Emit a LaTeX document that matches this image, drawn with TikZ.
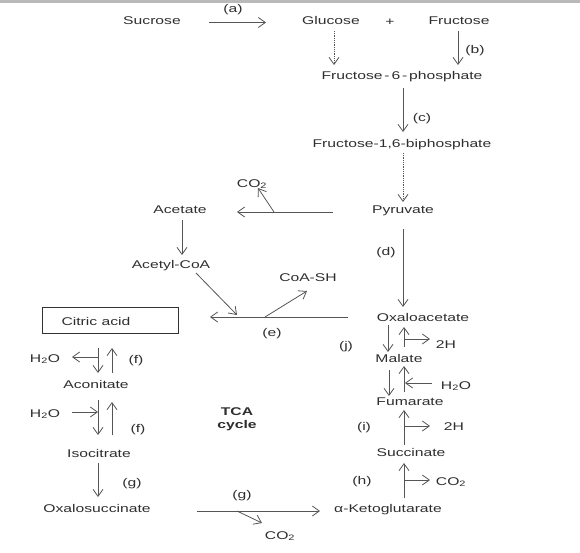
\documentclass[tikz,border=0pt]{standalone}
\usepackage{fontspec}
\setmainfont{Liberation Sans}[FakeStretch=1.4]
\usetikzlibrary{arrows.meta}
\definecolor{ln}{HTML}{555555}
\definecolor{txt}{HTML}{2E2E2E}
\begin{document}
\begin{tikzpicture}[x=1pt,y=-1pt,
  lbl/.style={inner sep=0pt, text=txt, font=\fontsize{11.2}{13}\selectfont, text height=8pt, text depth=0pt},
  conn/.style={draw=ln, line width=0.8pt},
  arr/.style={conn, -{Straight Barb[length=7pt,width=10pt,line width=0.8pt]}},
  dotarr/.style={arr, densely dotted}]
\useasboundingbox (0,0) rectangle (580,552);
\fill[gray!55] (0,0) rectangle (580,2.5);
% ---- text nodes
\node[lbl] (la) at (233,8) {(a)};
\node[lbl] (suc) at (152,20) {Sucrose};
\node[lbl] (glu) at (331,20) {Glucose};
\node[lbl] (plus) at (390,21) {+};
\node[lbl] (fru) at (459,20) {Fructose};
\node[lbl] (lb) at (475,49) {(b)};
\node[lbl] (f6p) at (402,75) {Fructose\,-\,6\,-\,phosphate};
\node[lbl] (lc) at (422,117) {(c)};
\node[lbl] (f16) at (402,143) {Fructose-1,6-biphosphate};
\node[lbl] (pyr) at (403,209) {Pyruvate};
\node[lbl] (co2a) at (252,183) {CO\textsubscript{2}};
\node[lbl] (ace) at (180,209) {Acetate};
\node[lbl] (acoa) at (171,264) {Acetyl-CoA};
\node[lbl] (ld) at (386,251) {(d)};
\node[lbl] (coash) at (308,277) {CoA-SH};
\node[draw=black!80, line width=0.8pt, inner sep=0pt, minimum width=136pt, minimum height=26pt] (citbox) at (110,320) {};
\node[lbl] (cit) at (96,321) {Citric acid};
\node[lbl] (le) at (272,332) {(e)};
\node[lbl] (oaa) at (423,317) {Oxaloacetate};
\node[lbl] (lj) at (346,345) {(j)};
\node[lbl] (h2a) at (446,344) {2H};
\node[lbl] (mal) at (399,358) {Malate};
\node[lbl] (h2oR) at (456,385) {H\textsubscript{2}O};
\node[lbl] (fum) at (410,401) {Fumarate};
\node[lbl] (li) at (364,426) {(i)};
\node[lbl] (h2b) at (454,426) {2H};
\node[lbl] (succ) at (411,452) {Succinate};
\node[lbl] (lh) at (362,480) {(h)};
\node[lbl] (co2c) at (451,481) {CO\textsubscript{2}};
\node[lbl] (akg) at (388,508) {α-Ketoglutarate};
\node[lbl] (h2oL1) at (45,358) {H\textsubscript{2}O};
\node[lbl] (lf1) at (136,359) {(f)};
\node[lbl] (aco) at (96,384) {Aconitate};
\node[lbl] (h2oL2) at (45,413) {H\textsubscript{2}O};
\node[lbl] (lf2) at (138,428) {(f)};
\node[lbl, align=center, font=\fontsize{11.2}{13}\selectfont\bfseries, text height=, text depth=] (tca) at (237,419) {TCA\\cycle};
\node[lbl] (iso) at (99,453) {Isocitrate};
\node[lbl] (lg1) at (132,482) {(g)};
\node[lbl] (oxs) at (97,508) {Oxalosuccinate};
\node[lbl] (lg2) at (242,494) {(g)};
\node[lbl] (co2b) at (280,535) {CO\textsubscript{2}};
% ---- connector end points
\coordinate (a1) at (209,22.5); \coordinate (a2) at (266,22.5);
\coordinate (g1) at (334,31);   \coordinate (g2) at (334,65);
\coordinate (b1) at (458,31);   \coordinate (b2) at (458,65);
\coordinate (c1) at (403,88);   \coordinate (c2) at (403,132);
\coordinate (p1) at (403,153);  \coordinate (p2) at (403,202);
\coordinate (pa1) at (333,212); \coordinate (pa2) at (237,212); \coordinate (pab) at (274,212); \coordinate (pac) at (258,188);
\coordinate (ac1) at (182,220); \coordinate (ac2) at (182,255);
\coordinate (d1) at (403,229);  \coordinate (d2) at (403,307);
\coordinate (e1) at (348,317);  \coordinate (e2) at (210,317);
\coordinate (ea) at (196,273);  \coordinate (eb) at (237,315);
\coordinate (es) at (265,317);  \coordinate (et) at (307,291);
\coordinate (j1) at (388,325);  \coordinate (j2) at (388,352);
\coordinate (j3) at (404,347);  \coordinate (j4) at (404,327);
\coordinate (jb) at (404,339);  \coordinate (jc) at (430,339);
\coordinate (m1) at (389,370);  \coordinate (m2) at (389,396);
\coordinate (m3) at (404,392);  \coordinate (m4) at (404,366);
\coordinate (mw1) at (432,383); \coordinate (mw2) at (405,383);
\coordinate (i1) at (404,445);  \coordinate (i2) at (404,410);
\coordinate (ib) at (404,426);  \coordinate (ic) at (430,426);
\coordinate (h1) at (404,498);  \coordinate (h2) at (404,463);
\coordinate (hb) at (404,480);  \coordinate (hc) at (430,480);
\coordinate (o1) at (197,511);  \coordinate (o2) at (320,511);
\coordinate (ob) at (237,511);  \coordinate (oc) at (262,523);
\coordinate (f1) at (98,348);   \coordinate (f2) at (98,373);
\coordinate (f3) at (112,373);  \coordinate (f4) at (112,348);
\coordinate (fw1) at (98,357);  \coordinate (fw2) at (72,357);
\coordinate (k1) at (98,400);   \coordinate (k2) at (98,435);
\coordinate (k3) at (112,435);  \coordinate (k4) at (112,402);
\coordinate (kw1) at (72,412);  \coordinate (kw2) at (98,412);
\coordinate (q1) at (98,463);   \coordinate (q2) at (98,497);
% ---- connectors
\draw[arr] (a1) -- (a2);
\draw[dotarr] (g1) -- (g2);
\draw[arr] (b1) -- (b2);
\draw[arr] (c1) -- (c2);
\draw[dotarr] (p1) -- (p2);
\draw[arr] (pa1) -- (pa2);
\draw[arr] (pab) -- (pac);
\draw[arr] (ac1) -- (ac2);
\draw[arr] (d1) -- (d2);
\draw[arr] (e1) -- (e2);
\draw[arr] (ea) -- (eb);
\draw[arr] (es) -- (et);
\draw[arr] (j1) -- (j2);
\draw[arr] (j3) -- (j4);
\draw[arr] (jb) -- (jc);
\draw[arr] (m1) -- (m2);
\draw[arr] (m3) -- (m4);
\draw[arr] (mw1) -- (mw2);
\draw[arr] (i1) -- (i2);
\draw[arr] (ib) -- (ic);
\draw[arr] (h1) -- (h2);
\draw[arr] (hb) -- (hc);
\draw[arr] (o1) -- (o2);
\draw[arr] (ob) -- (oc);
\draw[arr] (f1) -- (f2);
\draw[arr] (f3) -- (f4);
\draw[arr] (fw1) -- (fw2);
\draw[arr] (k1) -- (k2);
\draw[arr] (k3) -- (k4);
\draw[arr] (kw1) -- (kw2);
\draw[arr] (q1) -- (q2);
\end{tikzpicture}
\end{document}
